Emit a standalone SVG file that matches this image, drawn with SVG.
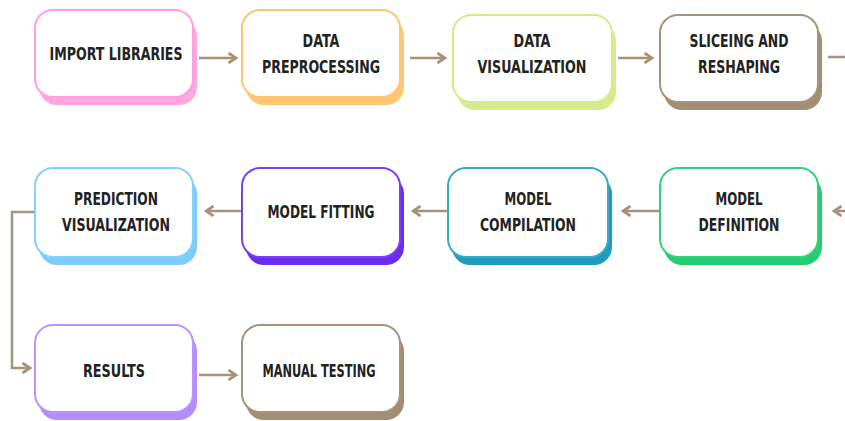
<svg xmlns="http://www.w3.org/2000/svg" width="845" height="421" viewBox="0 0 845 421">
  <style>
    .face { fill: #ffffff; stroke-width: 2; }
    .lbl { font-family: "DejaVu Sans Condensed", "DejaVu Sans", sans-serif; font-weight: bold; font-size: 17.5px; fill: #222222; text-anchor: middle; }
    .wire { fill: none; stroke: #a6937b; stroke-width: 2.5; }
  </style>
  <defs>
    <marker id="head" viewBox="0 0 10 10" refX="8" refY="5" markerWidth="5" markerHeight="5" orient="auto" markerUnits="strokeWidth">
      <path d="M2,1 L8,5 L2,9" fill="none" stroke="#a6937b" stroke-width="2.2" stroke-linejoin="miter"/>
    </marker>
  </defs>

  <!-- connectors -->
  <g id="connectors">
    <line class="wire" x1="199" y1="58" x2="236" y2="58" marker-end="url(#head)"/>
    <line class="wire" x1="410" y1="58" x2="445" y2="58" marker-end="url(#head)"/>
    <line class="wire" x1="618" y1="58" x2="652" y2="58" marker-end="url(#head)"/>
    <line class="wire" x1="828" y1="57" x2="845" y2="57"/>
    <line class="wire" x1="845" y1="211" x2="834" y2="211" marker-end="url(#head)"/>
    <line class="wire" x1="659" y1="211" x2="623" y2="211" marker-end="url(#head)"/>
    <line class="wire" x1="448" y1="211" x2="413" y2="211" marker-end="url(#head)"/>
    <line class="wire" x1="242" y1="211" x2="206" y2="211" marker-end="url(#head)"/>
    <polyline class="wire" points="35,212 12,212 12,368 30,368" marker-end="url(#head)"/>
    <line class="wire" x1="199" y1="375" x2="236" y2="375" marker-end="url(#head)"/>
  </g>

  <!-- row 1 -->
  <g id="import-libraries">
    <rect x="39" y="18" width="158" height="87" rx="18" fill="#ffa6e0"/>
    <rect class="face" x="35" y="10" width="158" height="87" rx="18" stroke="#ff9fdf"/>
    <text class="lbl" x="116" y="60" textLength="133" lengthAdjust="spacingAndGlyphs">IMPORT LIBRARIES</text>
  </g>
  <g id="data-preprocessing">
    <rect x="246" y="18" width="158" height="87" rx="18" fill="#ffc772"/>
    <rect class="face" x="242" y="10" width="158" height="87" rx="18" stroke="#ffc46e"/>
    <text class="lbl" x="321" y="47" textLength="37" lengthAdjust="spacingAndGlyphs">DATA</text>
    <text class="lbl" x="321" y="73" textLength="118" lengthAdjust="spacingAndGlyphs">PREPROCESSING</text>
  </g>
  <g id="data-visualization">
    <rect x="457" y="23" width="159" height="87" rx="18" fill="#d6ec8c"/>
    <rect class="face" x="453" y="15" width="159" height="87" rx="18" stroke="#d4eb88"/>
    <text class="lbl" x="532" y="47" textLength="37" lengthAdjust="spacingAndGlyphs">DATA</text>
    <text class="lbl" x="532" y="73" textLength="109" lengthAdjust="spacingAndGlyphs">VISUALIZATION</text>
  </g>
  <g id="sliceing-and-reshaping">
    <rect x="664" y="23" width="158" height="87" rx="18" fill="#a38e74"/>
    <rect class="face" x="660" y="15" width="158" height="87" rx="18" stroke="#a89379"/>
    <text class="lbl" x="739" y="47" textLength="99" lengthAdjust="spacingAndGlyphs">SLICEING AND</text>
    <text class="lbl" x="739" y="73" textLength="82" lengthAdjust="spacingAndGlyphs">RESHAPING</text>
  </g>

  <!-- row 2 -->
  <g id="prediction-visualization">
    <rect x="39" y="176" width="158" height="89" rx="18" fill="#7ccdfc"/>
    <rect class="face" x="35" y="168" width="158" height="89" rx="18" stroke="#85d0fc"/>
    <text class="lbl" x="116" y="205" textLength="84" lengthAdjust="spacingAndGlyphs">PREDICTION</text>
    <text class="lbl" x="116" y="231" textLength="108" lengthAdjust="spacingAndGlyphs">VISUALIZATION</text>
  </g>
  <g id="model-fitting">
    <rect x="246" y="176" width="158" height="89" rx="18" fill="#6a2df0"/>
    <rect class="face" x="242" y="168" width="158" height="89" rx="18" stroke="#7a40f2"/>
    <text class="lbl" x="321" y="218" textLength="107" lengthAdjust="spacingAndGlyphs">MODEL FITTING</text>
  </g>
  <g id="model-compilation">
    <rect x="452" y="176" width="160" height="89" rx="18" fill="#1e9bbd"/>
    <rect class="face" x="448" y="168" width="160" height="89" rx="18" stroke="#3aa9c7"/>
    <text class="lbl" x="528" y="205" textLength="47" lengthAdjust="spacingAndGlyphs">MODEL</text>
    <text class="lbl" x="528" y="231" textLength="96" lengthAdjust="spacingAndGlyphs">COMPILATION</text>
  </g>
  <g id="model-definition">
    <rect x="664" y="176" width="158" height="89" rx="18" fill="#25cd72"/>
    <rect class="face" x="660" y="168" width="158" height="89" rx="18" stroke="#33d17c"/>
    <text class="lbl" x="739" y="205" textLength="47" lengthAdjust="spacingAndGlyphs">MODEL</text>
    <text class="lbl" x="739" y="231" textLength="81" lengthAdjust="spacingAndGlyphs">DEFINITION</text>
  </g>

  <!-- row 3 -->
  <g id="results">
    <rect x="39" y="333" width="158" height="87" rx="18" fill="#b38cff"/>
    <rect class="face" x="35" y="325" width="158" height="87" rx="18" stroke="#b794ff"/>
    <text class="lbl" x="114" y="377" textLength="62" lengthAdjust="spacingAndGlyphs">RESULTS</text>
  </g>
  <g id="manual-testing">
    <rect x="246" y="333" width="158" height="87" rx="18" fill="#a38e74"/>
    <rect class="face" x="242" y="325" width="158" height="87" rx="18" stroke="#a89379"/>
    <text class="lbl" x="319" y="377" textLength="113" lengthAdjust="spacingAndGlyphs">MANUAL TESTING</text>
  </g>
</svg>
